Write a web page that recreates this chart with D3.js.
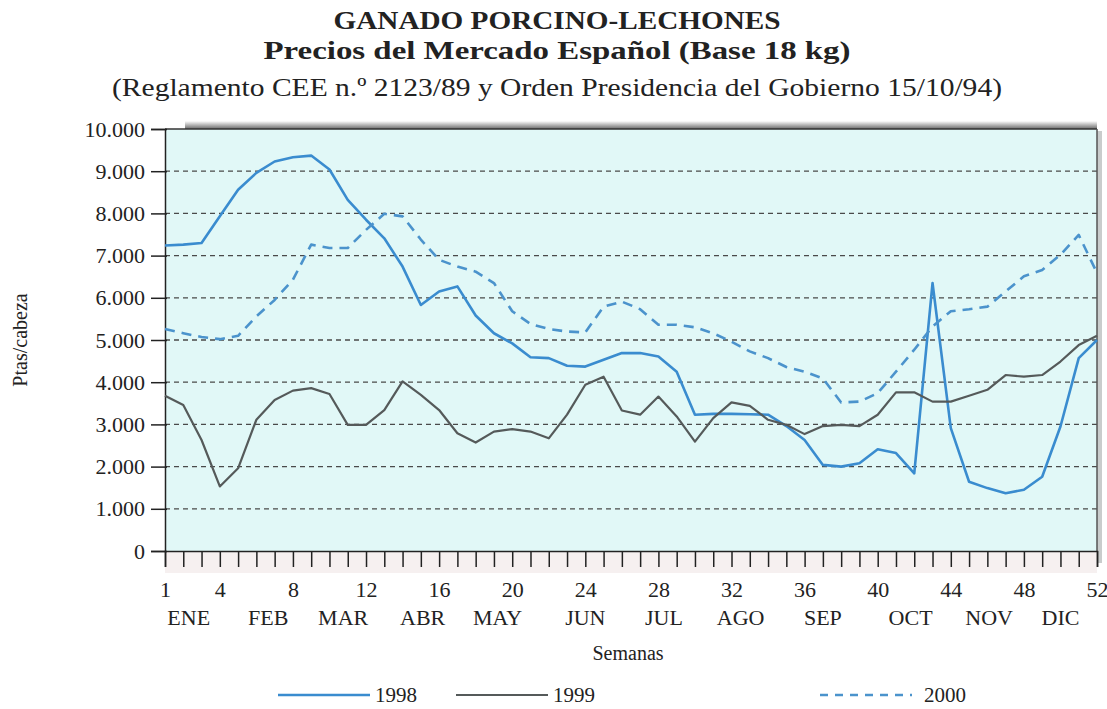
<!DOCTYPE html>
<html>
<head>
<meta charset="utf-8">
<script src="https://cdn.jsdelivr.net/npm/d3@7"></script>
<style>
  body { margin: 0; background: #fff; }
  text { font-family: "Liberation Serif", "Times New Roman", serif; fill: #222; }
</style>
</head>
<body>
<div id="chart"></div>
<script>
// weeks of the year
var weeks = d3.range(1, 53);

// prices (Ptas/cabeza), one value per week
var serie1998 = [7240, 7260, 7300, 7930, 8560, 8960, 9230, 9330, 9370, 9040,
  8320, 7850, 7410, 6740, 5830, 6150, 6270, 5580, 5160, 4920,
  4590, 4570, 4390, 4370, 4530, 4690, 4690, 4610, 4250, 3230,
  3250, 3250, 3240, 3230, 2960, 2630, 2040, 2000, 2080, 2410,
  2320, 1840, 6350, 2910, 1640, 1490, 1370, 1450, 1760, 2950,
  4570, 5000];

var serie1999 = [3680, 3460, 2630, 1530, 1960, 3110, 3580, 3800, 3860, 3720,
  2990, 2990, 3340, 4020, 3700, 3340, 2790, 2570, 2830, 2890,
  2830, 2670, 3230, 3940, 4130, 3330, 3230, 3660, 3190, 2590,
  3150, 3520, 3440, 3110, 2990, 2770, 2960, 2990, 2960, 3230,
  3760, 3760, 3540, 3540, 3680, 3820, 4170, 4130, 4170, 4490,
  4880, 5100];

var serie2000 = [5260, 5160, 5070, 5020, 5100, 5560, 5950, 6430, 7260, 7180,
  7180, 7610, 7990, 7930, 7380, 6900, 6740, 6620, 6350, 5680,
  5380, 5260, 5200, 5180, 5790, 5910, 5730, 5360, 5360, 5300,
  5160, 4960, 4730, 4570, 4360, 4250, 4090, 3520, 3540, 3740,
  4250, 4770, 5320, 5680, 5730, 5790, 6150, 6510, 6660, 7020,
  7490, 6590];

// axis labels
var weekTicks = [1, 4, 8, 12, 16, 20, 24, 28, 32, 36, 40, 44, 48, 52];
var yTicks = d3.range(0, 10001, 1000);
var monthNames = ["ENE", "FEB", "MAR", "ABR", "MAY", "JUN", "JUL", "AGO", "SEP", "OCT", "NOV", "DIC"];
var monthWeeks = [2.3, 6.65, 10.75, 15.1, 19.2, 24, 28.3, 32.5, 37, 41.8, 46.1, 50];

var seriesNames = ["1998", "1999", "2000"];

var svgWidth = 1107;
var svgHeight = 709;

var svg = d3.select("#chart")
  .append("svg")
  .attr("width", svgWidth)
  .attr("height", svgHeight);

// plot box
var plot = { left: 165, right: 1097, top: 129, bottom: 551 };

var x = d3.scaleLinear()
  .domain([1, 52])
  .range([plot.left, plot.right]);

var y = d3.scaleLinear()
  .domain([0, 10000])
  .range([plot.bottom, plot.top]);

// titles
var titles = [
  { t: "GANADO PORCINO-LECHONES", y: 29, w: "bold", size: 25, len: 447 },
  { t: "Precios del Mercado Español (Base 18 kg)", y: 59, w: "bold", size: 25, len: 587 },
  { t: "(Reglamento CEE n.º 2123/89 y Orden Presidencia del Gobierno 15/10/94)", y: 96, w: "normal", size: 26, len: 890 }
];
svg.selectAll(".title")
  .data(titles)
  .enter()
  .append("text")
  .attr("class", "title")
  .attr("x", 557)
  .attr("y", d => d.y)
  .attr("text-anchor", "middle")
  .attr("font-weight", d => d.w)
  .attr("font-size", d => d.size + "px")
  .attr("textLength", d => d.len)
  .attr("lengthAdjust", "spacingAndGlyphs")
  .text(d => d.t);

// shadow behind the plot box
var defs = svg.append("defs");
var grad = defs.append("linearGradient")
  .attr("id", "topShade")
  .attr("x1", 0).attr("y1", 0).attr("x2", 0).attr("y2", 1);
grad.append("stop").attr("offset", "0%").attr("stop-color", "#ffffff");
grad.append("stop").attr("offset", "100%").attr("stop-color", "#6a6a6a");

svg.append("rect")
  .attr("x", 185)
  .attr("y", 121)
  .attr("width", plot.right - 185)
  .attr("height", 8)
  .attr("fill", "url(#topShade)");

svg.append("rect")
  .attr("x", plot.right)
  .attr("y", plot.top + 2)
  .attr("width", 5)
  .attr("height", plot.bottom - plot.top + 10)
  .attr("fill", "#c9cccc");

// faint band under the axis
svg.append("rect")
  .attr("x", plot.left)
  .attr("y", plot.bottom)
  .attr("width", plot.right - plot.left)
  .attr("height", 22)
  .attr("fill", "#f6f0f0");

// plot background
svg.append("rect")
  .attr("x", plot.left)
  .attr("y", plot.top)
  .attr("width", plot.right - plot.left)
  .attr("height", plot.bottom - plot.top)
  .attr("fill", "#e1f8f7");

// dashed grid lines
svg.append("g")
  .selectAll("line")
  .data(yTicks.filter(d => d > 0 && d < 10000))
  .enter()
  .append("line")
  .attr("x1", plot.left)
  .attr("x2", plot.right)
  .attr("y1", d => y(d))
  .attr("y2", d => y(d))
  .attr("stroke", "#4a4a4a")
  .attr("stroke-width", 1.3)
  .attr("stroke-dasharray", "5,4");

// frame top and right
svg.append("line")
  .attr("x1", plot.left).attr("x2", plot.right)
  .attr("y1", plot.top).attr("y2", plot.top)
  .attr("stroke", "#333").attr("stroke-width", 1.5);
svg.append("line")
  .attr("x1", plot.right).attr("x2", plot.right)
  .attr("y1", plot.top).attr("y2", plot.bottom)
  .attr("stroke", "#555").attr("stroke-width", 1.5);

// left axis
var leftAxis = d3.axisLeft(y)
  .tickValues(yTicks)
  .tickSize(14)
  .tickPadding(6)
  .tickFormat(d => d3.format(",")(d).replace(/,/g, "."));

var gy = svg.append("g")
  .attr("transform", `translate(${plot.left}, 0)`)
  .call(leftAxis);
gy.select(".domain").attr("stroke", "#222").attr("stroke-width", 1.5);
gy.selectAll(".tick line").attr("stroke", "#222").attr("stroke-width", 1.5)
  .attr("x2", -14).attr("x1", 2);
gy.selectAll(".tick text")
  .attr("font-family", "Liberation Serif")
  .attr("font-size", "22px")
  .attr("fill", "#222");

// bottom axis, a tick every week
var bottomAxis = d3.axisBottom(x)
  .tickValues(weeks)
  .tickSize(16)
  .tickFormat(d => weekTicks.indexOf(d) >= 0 ? d : "");

var gx = svg.append("g")
  .attr("transform", `translate(0, ${plot.bottom})`)
  .call(bottomAxis);
gx.select(".domain").attr("stroke", "#222").attr("stroke-width", 1.5);
gx.selectAll(".tick line").attr("stroke", "#222").attr("stroke-width", 1.5);
gx.selectAll(".tick text")
  .attr("font-family", "Liberation Serif")
  .attr("font-size", "22px")
  .attr("fill", "#222")
  .attr("y", 30);

// month names
svg.append("g")
  .selectAll("text")
  .data(monthNames)
  .enter()
  .append("text")
  .attr("x", (d, i) => x(monthWeeks[i]))
  .attr("y", 625)
  .attr("text-anchor", "middle")
  .attr("font-size", "22px")
  .text(d => d);

// axis titles
svg.append("text")
  .attr("x", 628)
  .attr("y", 660)
  .attr("text-anchor", "middle")
  .attr("font-size", "20px")
  .text("Semanas");

svg.append("text")
  .attr("transform", "translate(27, 340) rotate(-90)")
  .attr("text-anchor", "middle")
  .attr("font-size", "20px")
  .text("Ptas/cabeza");

// lines
var styles = [
  { data: serie1998, color: "#3a8ccf", width: 2.6, dash: null },
  { data: serie1999, color: "#555a5a", width: 2.2, dash: null },
  { data: serie2000, color: "#4b93cc", width: 2.6, dash: "10,7" }
];

var line = d3.line()
  .x((d, i) => x(weeks[i]))
  .y(d => y(d));

svg.append("g")
  .selectAll("path")
  .data(styles)
  .enter()
  .append("path")
  .attr("d", d => line(d.data))
  .attr("fill", "none")
  .attr("stroke", d => d.color)
  .attr("stroke-width", d => d.width)
  .attr("stroke-linejoin", "round")
  .attr("stroke-dasharray", d => d.dash);

// legend
var legendX = [278, 456, 820];
var legend = svg.append("g")
  .selectAll("g")
  .data(styles)
  .enter()
  .append("g")
  .attr("transform", (d, i) => `translate(${legendX[i]}, 695)`);

legend.append("line")
  .attr("x1", 0)
  .attr("x2", 92)
  .attr("stroke", d => d.color)
  .attr("stroke-width", d => d.width)
  .attr("stroke-dasharray", d => d.dash ? "8,7" : null);

legend.append("text")
  .attr("x", (d, i) => i == 2 ? 104 : 97)
  .attr("y", 7)
  .attr("font-size", "21px")
  .text((d, i) => seriesNames[i]);
</script>
</body>
</html>
